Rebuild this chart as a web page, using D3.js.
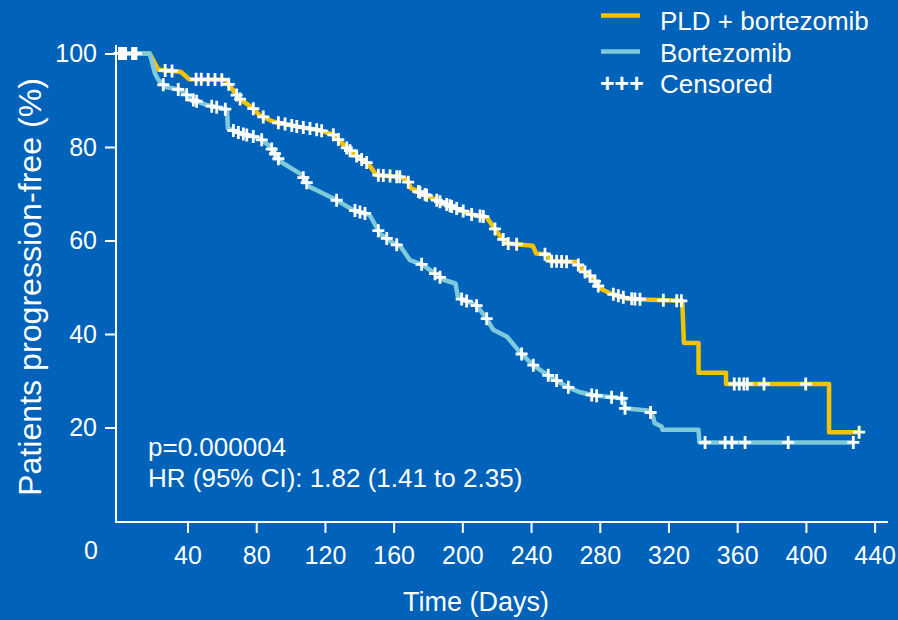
<!DOCTYPE html>
<html>
<head>
<meta charset="utf-8">
<script src="https://cdn.jsdelivr.net/npm/d3@7"></script>
<style>
  html, body { margin: 0; padding: 0; background: #0062b9; }
  svg { display: block; font-family: "Liberation Sans", Arial, Helvetica, sans-serif; }
</style>
</head>
<body>
<svg id="chart" width="898" height="620"></svg>
<script>
// Kaplan-Meier progression-free survival, two treatment arms
const xTicks = [40, 80, 120, 160, 200, 240, 280, 320, 360, 400, 440];
const yTicks = [20, 40, 60, 80, 100];
const seriesNames = ["PLD + bortezomib", "Bortezomib"];

// PLD + bortezomib arm: time (days) and % progression-free
const pldDays = [0, 18, 23, 36, 41, 62, 65, 70, 78, 82, 90, 105, 117, 125, 133, 139, 145, 150, 164, 168, 170, 179, 187, 199, 206, 214, 218, 222, 226, 241, 243, 250, 251, 266, 270, 276, 280, 286, 296, 309, 328, 329, 337.5, 337.5, 353.5, 353.5, 413.5, 413.5, 431.5];
const pldSurv = [100, 100, 96.5, 96.1, 94.5, 94.4, 92.9, 90.4, 88.3, 86.8, 85.4, 84.3, 83.6, 82.6, 79.7, 77.9, 76.5, 74.0, 73.6, 72.9, 71.2, 69.7, 68.3, 66.5, 65.5, 65.0, 63.0, 60.9, 59.4, 58.9, 57.2, 57.0, 55.6, 55.4, 53.7, 51.9, 49.8, 48.7, 47.6, 47.3, 47.1, 38.1, 38.1, 31.7, 31.7, 29.3, 29.3, 19.0, 19.0];
const pldCensored = [0.5, 2, 4, 8, 10, 27, 31, 45, 48, 52, 56, 60, 64, 68.6, 70.6, 78.3, 84.1, 92.9, 96.8, 100.7, 103.6, 107.4, 111.3, 115.2, 118.1, 124.9, 127.8, 132.7, 134.6, 138.5, 141.4, 144.3, 151.1, 154, 157.9, 161.8, 163.6, 168.5, 174.4, 175.3, 178.3, 179.2, 185.1, 187, 190.9, 192.8, 193.8, 196.7, 200.5, 205.4, 210.3, 212.2, 219, 223.8, 226.7, 231.6, 248.1, 252, 254.9, 257.8, 260.7, 267.5, 271.4, 274.3, 277.2, 279.1, 287.9, 290.8, 293.7, 298.6, 300.5, 303.4, 317, 324.8, 327.5, 358.3, 361.2, 363.9, 365.9, 375.6, 399.9, 431];

// Bortezomib arm
const bortDays = [0, 18, 21, 23, 27, 36, 43, 51, 63, 63.5, 71, 82, 88, 94, 106, 111, 125, 136.5, 146, 152, 160, 164, 169.5, 177, 189, 196, 197.5, 208, 214, 218, 226, 234, 241, 251, 261, 268, 276, 294, 294.5, 309, 311, 312, 316, 316.5, 337.5, 338, 428];
const bortSurv = [100, 100, 95.8, 94.4, 92.9, 92.2, 90.1, 89.0, 88.0, 84.0, 82.9, 81.9, 80.1, 76.9, 74.2, 71.5, 69.0, 66.5, 65.5, 61.5, 59.4, 58.7, 55.8, 54.8, 51.6, 50.8, 47.8, 46.2, 43.4, 40.9, 39.4, 35.9, 33.4, 30.9, 28.7, 27.6, 26.9, 26.2, 24.1, 23.6, 22.3, 20.9, 20.2, 19.5, 19.5, 16.8, 16.8];
const bortCensored = [0.5, 3, 9, 25.9, 34.6, 39.5, 43.4, 45.3, 54.1, 57, 62, 66.7, 69.6, 72.5, 74.5, 78.3, 83.2, 89, 90.9, 92.9, 107.4, 109.4, 126.8, 137.5, 140.4, 143.3, 151.1, 156, 161.8, 176.3, 184.1, 187, 199.6, 202.5, 208.3, 214.2, 234.5, 241.3, 250, 254.9, 261.7, 275.3, 278.2, 286.9, 292.8, 294.7, 309.6, 341.3, 353, 356.9, 364.6, 389.7, 427.6];

const annotations = ["p=0.000004", "HR (95% CI): 1.82 (1.41 to 2.35)"];

const colors = { pld: "#f4c300", bort: "#7ecadb", ink: "#ffffff" };

const svg = d3.select("#chart");
const x = d3.scaleLinear().domain([0, 440]).range([118.8, 874.6]);
const y = d3.scaleLinear().domain([0, 100]).range([521, 53.5]);

const axisX = 116, axisY = 522;

// survival value at time t along the drawn curve (upper value at a drop)
function survivalAt(days, surv, t) {
  for (let i = 0; i < days.length - 1; i++) {
    const d0 = days[i], d1 = days[i + 1];
    if (d1 === d0) continue;
    if (t >= d0 && t <= d1) {
      return surv[i] + (surv[i + 1] - surv[i]) * (t - d0) / (d1 - d0);
    }
  }
  return surv[surv.length - 1];
}

// axes
const gx = svg.append("g").attr("transform", `translate(0,${axisY})`)
  .call(d3.axisBottom(x).tickValues(xTicks).tickSize(11).tickPadding(13).tickFormat(d3.format("d")));
gx.select(".domain").remove();
gx.selectAll(".tick line").attr("stroke", colors.ink).attr("stroke-width", 2);
gx.selectAll(".tick text").attr("fill", colors.ink).attr("font-size", 25)
  .attr("font-family", "Liberation Sans, Arial, sans-serif");

const gy = svg.append("g").attr("transform", `translate(${axisX},0)`)
  .call(d3.axisLeft(y).tickValues(yTicks).tickSize(11).tickPadding(8).tickFormat(d3.format("d")));
gy.select(".domain").remove();
gy.selectAll(".tick line").attr("stroke", colors.ink).attr("stroke-width", 2);
gy.selectAll(".tick text").attr("fill", colors.ink).attr("font-size", 25)
  .attr("font-family", "Liberation Sans, Arial, sans-serif");

svg.append("line").attr("x1", axisX).attr("x2", axisX).attr("y1", 45).attr("y2", axisY + 1)
  .attr("stroke", colors.ink).attr("stroke-width", 2);
svg.append("line").attr("x1", axisX - 1).attr("x2", 888).attr("y1", axisY).attr("y2", axisY)
  .attr("stroke", colors.ink).attr("stroke-width", 2);

svg.append("text").attr("x", 91).attr("y", 559).attr("text-anchor", "middle")
  .attr("fill", colors.ink).attr("font-size", 25).text("0");

svg.append("text").attr("x", 476).attr("y", 611).attr("text-anchor", "middle")
  .attr("fill", colors.ink).attr("font-size", 27).text("Time (Days)");

svg.append("text")
  .attr("transform", "translate(41,287) rotate(-90)")
  .attr("text-anchor", "middle")
  .attr("fill", colors.ink).attr("font-size", 31)
  .attr("textLength", 418).attr("lengthAdjust", "spacingAndGlyphs")
  .text("Patients progression-free (%)");

// curves
const line = d3.line().x(d => x(d[0])).y(d => y(d[1]));
const pldPts = pldDays.map((d, i) => [d, pldSurv[i]]);
const bortPts = bortDays.map((d, i) => [d, bortSurv[i]]);

svg.append("path").datum(pldPts).attr("d", line).attr("fill", "none")
  .attr("stroke", colors.pld).attr("stroke-width", 4.5).attr("stroke-linejoin", "round");
svg.append("path").datum(bortPts).attr("d", line).attr("fill", "none")
  .attr("stroke", colors.bort).attr("stroke-width", 4.5).attr("stroke-linejoin", "round");

// censor marks
const cross = "M-6,0H6M0,-6.5V6.5";
function drawCensors(times, days, surv) {
  svg.append("g").selectAll("path").data(times).join("path")
    .attr("d", cross)
    .attr("transform", t => `translate(${x(t)},${y(survivalAt(days, surv, t))})`)
    .attr("stroke", colors.ink).attr("stroke-width", 2.8).attr("fill", "none");
}
drawCensors(pldCensored, pldDays, pldSurv);
drawCensors(bortCensored, bortDays, bortSurv);

// annotation
svg.append("g").selectAll("text").data(annotations).join("text")
  .attr("x", 148).attr("y", (d, i) => 456 + i * 31)
  .attr("fill", colors.ink).attr("font-size", 26).text(d => d);

// legend
const legend = svg.append("g");
[colors.pld, colors.bort].forEach((c, i) => {
  legend.append("line").attr("x1", 601).attr("x2", 640)
    .attr("y1", 15.5 + i * 36).attr("y2", 15.5 + i * 36)
    .attr("stroke", c).attr("stroke-width", 4.5);
  legend.append("text").attr("x", 660).attr("y", 29.5 + i * 32.3)
    .attr("fill", colors.ink).attr("font-size", 26).text(seriesNames[i]);
});
legend.append("text").attr("x", 600).attr("y", 92).attr("fill", colors.ink)
  .attr("font-size", 25).attr("font-weight", "bold").text("+++");
legend.append("text").attr("x", 660).attr("y", 93).attr("fill", colors.ink)
  .attr("font-size", 26).text("Censored");
</script>
</body>
</html>
